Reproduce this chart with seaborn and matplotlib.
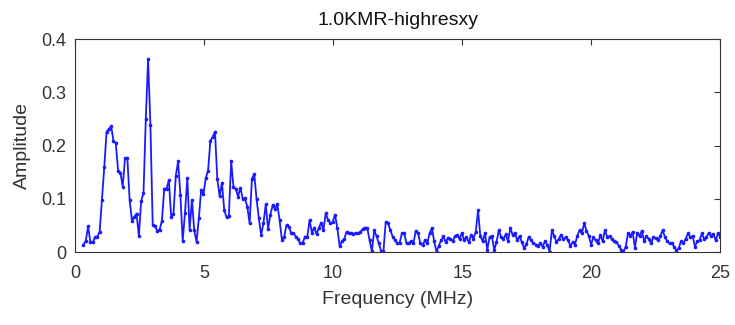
import numpy as np
import pandas as pd
import matplotlib
matplotlib.use("Agg")
import matplotlib.pyplot as plt
import seaborn as sns

title = "1.0KMR-highresxy"
x_label = "Frequency (MHz)"
y_label = "Amplitude"
x_ticks = [0, 5, 10, 15, 20, 25]
y_ticks = [0, 0.1, 0.2, 0.3, 0.4]
y_tick_labels = ["0", "0.1", "0.2", "0.3", "0.4"]
f_start, f_end = 0.33, 25.0

amp_low = [0.014, 0.021, 0.048, 0.018, 0.018, 0.028, 0.029, 0.038, 0.098, 0.159,
           0.226, 0.231, 0.236, 0.209, 0.204, 0.153, 0.149, 0.123, 0.176, 0.177,
           0.098, 0.059, 0.066, 0.072, 0.030, 0.096, 0.110, 0.249, 0.362, 0.239,
           0.051, 0.048, 0.040, 0.042, 0.059, 0.119, 0.119, 0.135, 0.066, 0.072,
           0.143, 0.170]
amp_mid = [0.107, 0.021, 0.074, 0.139, 0.041, 0.098, 0.041, 0.019, 0.063, 0.117,
           0.109, 0.139, 0.153, 0.209, 0.216, 0.226, 0.137, 0.105, 0.130, 0.079,
           0.065, 0.068, 0.170, 0.123, 0.118, 0.104, 0.121, 0.100, 0.101, 0.085,
           0.054, 0.137, 0.147, 0.100, 0.063, 0.032, 0.054, 0.090, 0.043, 0.070,
           0.088, 0.080, 0.090, 0.060, 0.023, 0.029, 0.051, 0.047, 0.036]
amp_tail = [0.036, 0.029, 0.024, 0.016, 0.017, 0.029, 0.028, 0.060, 0.036, 0.046,
            0.034, 0.045, 0.055, 0.041, 0.073, 0.060, 0.054, 0.056, 0.070, 0.046,
            0.011, 0.020, 0.024, 0.038, 0.035, 0.036, 0.034, 0.036, 0.035, 0.037,
            0.043, 0.046, 0.045, 0.022, 0.001, 0.041, 0.030, 0.016, 0.002, 0.001, 0.057,
            0.054, 0.041, 0.029, 0.022, 0.016, 0.017, 0.035, 0.035, 0.016, 0.017, 0.020,
            0.016, 0.040, 0.035, 0.016, 0.013, 0.022, 0.016, 0.035, 0.045, 0.020, 0.000,
            0.012, 0.022, 0.030, 0.018, 0.027, 0.025, 0.020, 0.030, 0.032, 0.024, 0.036,
            0.022, 0.028, 0.018, 0.032, 0.025, 0.038, 0.078, 0.030, 0.020, 0.035, 0.004,
            0.028, 0.030, 0.004, 0.018, 0.041, 0.028, 0.024, 0.033, 0.020, 0.045, 0.032,
            0.036, 0.022, 0.030, 0.018, 0.007, 0.015, 0.029, 0.022, 0.016, 0.014, 0.012,
            0.016, 0.010, 0.020, 0.014, 0.000, 0.041, 0.030, 0.018, 0.025, 0.032, 0.024,
            0.028, 0.022, 0.012, 0.018, 0.014, 0.030, 0.041, 0.035, 0.054, 0.040, 0.030,
            0.014, 0.028, 0.022, 0.016, 0.032, 0.020, 0.041, 0.028, 0.030, 0.024, 0.020,
            0.018, 0.012, 0.004, 0.000, 0.010, 0.035, 0.030, 0.038, 0.008, 0.036, 0.030,
            0.040, 0.020, 0.030, 0.024, 0.016, 0.028, 0.026, 0.022, 0.030, 0.041, 0.028,
            0.020, 0.016, 0.016, 0.010, 0.002, 0.008, 0.020, 0.016, 0.025, 0.035, 0.028,
            0.030, 0.010, 0.020, 0.022, 0.035, 0.024, 0.028, 0.036, 0.030, 0.034,
            0.022, 0.035, 0.028]

amplitude = amp_low + amp_mid + amp_tail
frequency = np.linspace(f_start, f_end, len(amplitude))
df = pd.DataFrame({"Frequency": frequency, "Amplitude": amplitude})

sns.set_style("white")
plt.rcParams["font.family"] = ["Liberation Sans", "DejaVu Sans"]

fig = plt.figure(figsize=(7.35, 3.25), dpi=100)
ax = fig.add_axes([0.102, 0.2246, 0.878, 0.6554])

sns.lineplot(data=df, x="Frequency", y="Amplitude", ax=ax, color="#1a1aff",
             linewidth=1.3, marker="o", markersize=2.6, markeredgewidth=0,
             estimator=None, sort=False)

ax.set_xlim(0, 25)
ax.set_ylim(0, 0.4)
ax.set_xticks(x_ticks)
ax.set_xticklabels([str(t) for t in x_ticks])
ax.set_yticks(y_ticks)
ax.set_yticklabels(y_tick_labels)
ax.tick_params(direction="in", length=4, width=0.8, top=True, right=True,
               labelsize=13, colors="#333333", pad=6)
ax.tick_params(axis="x", pad=9)
for s in ax.spines.values():
    s.set_color("#333333")
    s.set_linewidth(0.8)
ax.set_xlabel(x_label, fontsize=14, color="#333333", labelpad=7)
ax.set_ylabel(y_label, fontsize=14, color="#333333", labelpad=8)
ax.set_title(title, fontsize=14, color="#111111", pad=10)

fig.savefig("out.png", dpi=100)
